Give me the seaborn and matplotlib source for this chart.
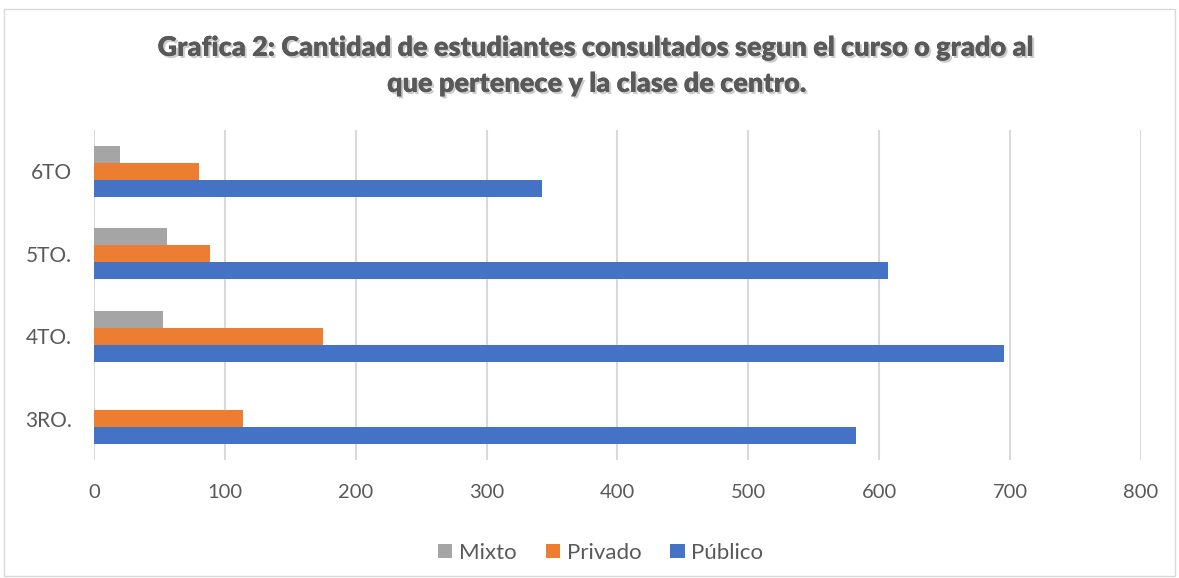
import pandas as pd
import matplotlib.pyplot as plt
import matplotlib.patheffects as pe
import seaborn as sns
from matplotlib.patches import Rectangle

# Data
cursos = ["6TO", "5TO.", "4TO.", "3RO."]
mixto = [20, 56, 53, 0]
privado = [80, 89, 175, 114]
publico = [342, 607, 695, 582]
clases = ["Mixto", "Privado", "Público"]
colores = ["#A5A5A5", "#ED7D31", "#4472C4"]

df = pd.DataFrame({
    "curso": cursos * 3,
    "clase": [c for c in clases for _ in cursos],
    "cantidad": mixto + privado + publico,
})

sns.set_style("white")
plt.rcParams["font.family"] = ["Lato", "DejaVu Sans"]
txt = "#595959"

fig = plt.figure(figsize=(11.79, 5.78), dpi=100)
ax = fig.add_axes([0.0797, 0.204, 0.888, 0.571])

sns.barplot(data=df, y="curso", x="cantidad", hue="clase", order=cursos,
            hue_order=clases, palette=colores, orient="h", width=0.62,
            saturation=1, edgecolor="none", ax=ax)

ax.set_xlim(0, 800)
ax.set_ylim(3.5, -0.5)
ax.set_xticks(range(0, 801, 100))
ax.grid(axis="x", color="#D9D9D9", linewidth=1.5)
ax.set_axisbelow(True)
for s in ax.spines.values():
    s.set_visible(False)
ax.set_xlabel("")
ax.set_ylabel("")
ax.tick_params(axis="x", labelsize=14.5, colors=txt, length=0, pad=17)
ax.tick_params(axis="y", labelsize=15, colors=txt, length=0, pad=16)

leg = ax.legend(loc="upper center", bbox_to_anchor=(0.484, -0.19), ncol=3,
                frameon=False, fontsize=16, handlelength=0.65, handleheight=0.65,
                columnspacing=1.3, handletextpad=0.3)
for t in leg.get_texts():
    t.set_color(txt)

titulo = "Grafica 2: Cantidad de estudiantes consultados segun el curso o grado al\nque pertenece y la clase de centro."
fig.text(0.506, 0.886, titulo, ha="center", va="center", fontsize=19.5,
         fontweight="heavy", color="#595959", linespacing=1.6,
         path_effects=[pe.withSimplePatchShadow(offset=(1.5, -1.5),
                                                shadow_rgbFace="#9A9A9A", alpha=0.5),
                       pe.Normal()])

# outer frame of the chart area
fig.patches.append(Rectangle((0.003, 0.003), 0.994, 0.982, transform=fig.transFigure,
                             fill=False, edgecolor="#D9D9D9", linewidth=1))

fig.savefig("out.png", dpi=100)
